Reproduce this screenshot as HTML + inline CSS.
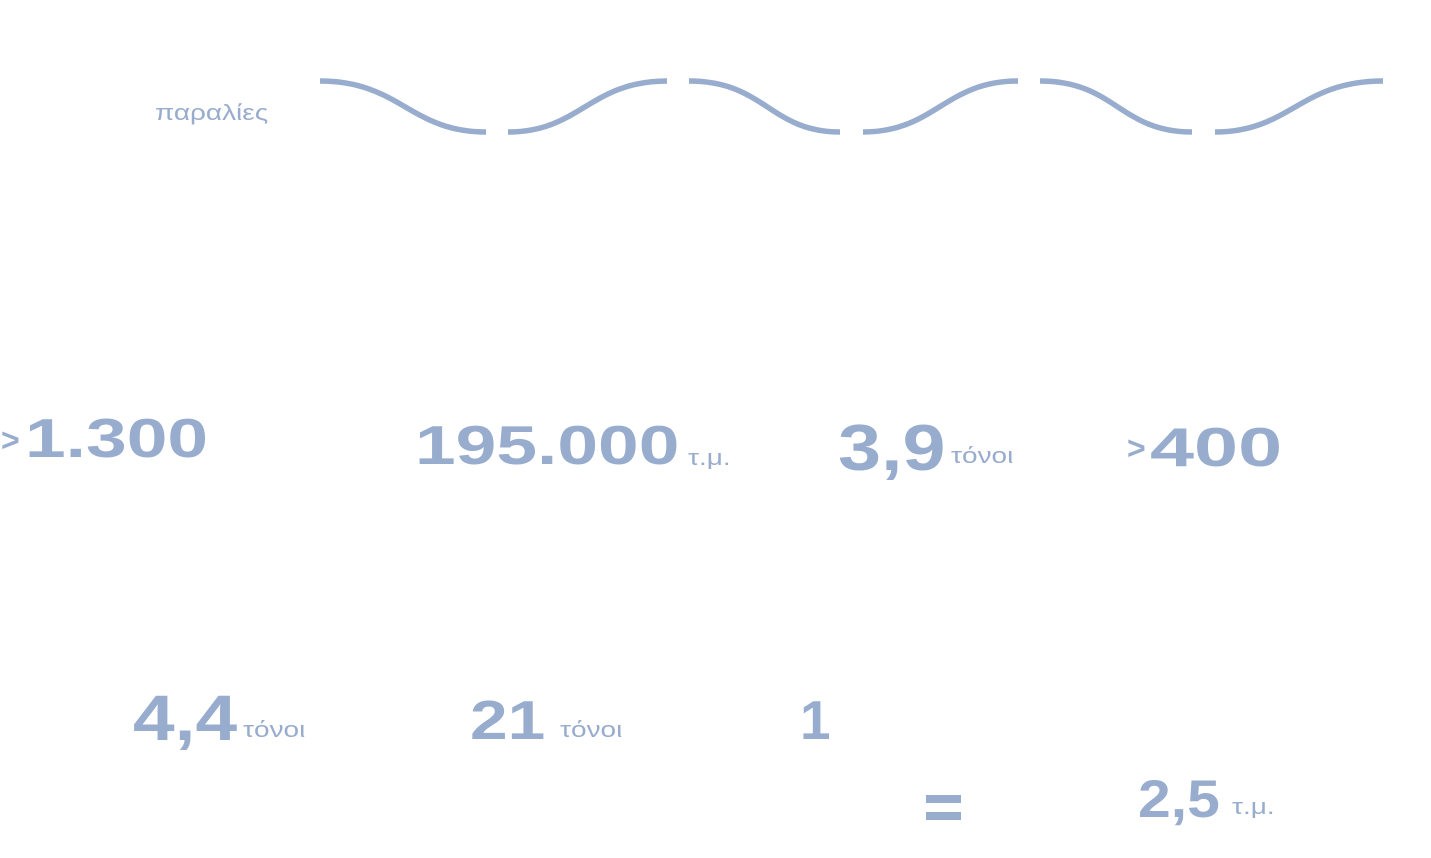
<!DOCTYPE html>
<html><head><meta charset="utf-8">
<style>
html,body{margin:0;padding:0;background:#fff;}
body{width:1431px;height:858px;position:relative;overflow:hidden;font-family:"Liberation Sans","DejaVu Sans",sans-serif;color:#98acce;}
.t{position:absolute;white-space:nowrap;line-height:1;transform-origin:0 0;}
.b{font-weight:bold;}
.s{font-size:22px;transform:scaleX(1.27);}
.eq{position:absolute;left:926px;width:35px;height:8px;background:#98acce;}
</style></head><body>
<svg width="1431" height="858" style="position:absolute;left:0;top:0">
<g fill="none" stroke="#98acce" stroke-width="5.5">
<path d="M320,81 C400,81 410,132 486,132"/>
<path d="M508,132 C580,132 590,81 667,81"/>
<path d="M689,81 C765,81 770,132 840,132"/>
<path d="M863,132 C935,132 945,81 1018,81"/>
<path d="M1040,81 C1115,81 1120,132 1192,132"/>
<path d="M1215,132 C1290,132 1300,81 1383,81"/>
</g>
</svg>
<div class="t" style="left:155px;top:102px;font-size:22px;transform:scaleX(1.27)">παραλίες</div>

<div class="t b" style="left:1px;top:424px;font-size:32px">&gt;</div>
<div class="t b" style="left:25px;top:411px;font-size:55px;transform:scaleX(1.33)">1.300</div>

<div class="t b" style="left:415px;top:418px;font-size:55px;transform:scaleX(1.33)">195.000</div>
<div class="t s" style="left:688px;top:447px">τ.μ.</div>

<div class="t b" style="left:838px;top:415px;font-size:65px;transform:scaleX(1.19)">3,9</div>
<div class="t s" style="left:951px;top:445px">τόνοι</div>

<div class="t b" style="left:1127px;top:432px;font-size:32px">&gt;</div>
<div class="t b" style="left:1150px;top:420px;font-size:55px;transform:scaleX(1.44)">400</div>

<div class="t b" style="left:133px;top:686px;font-size:64px;transform:scaleX(1.17)">4,4</div>
<div class="t s" style="left:243px;top:719px">τόνοι</div>

<div class="t b" style="left:470px;top:693px;font-size:55px;transform:scaleX(1.23)">21</div>
<div class="t s" style="left:560px;top:719px">τόνοι</div>

<div class="t b" style="left:800px;top:693px;font-size:55px">1</div>

<div class="eq" style="top:795px"></div>
<div class="eq" style="top:812px"></div>

<div class="t b" style="left:1138px;top:773px;font-size:53px;transform:scaleX(1.11)">2,5</div>
<div class="t s" style="left:1232px;top:796px">τ.μ.</div>
</body></html>
